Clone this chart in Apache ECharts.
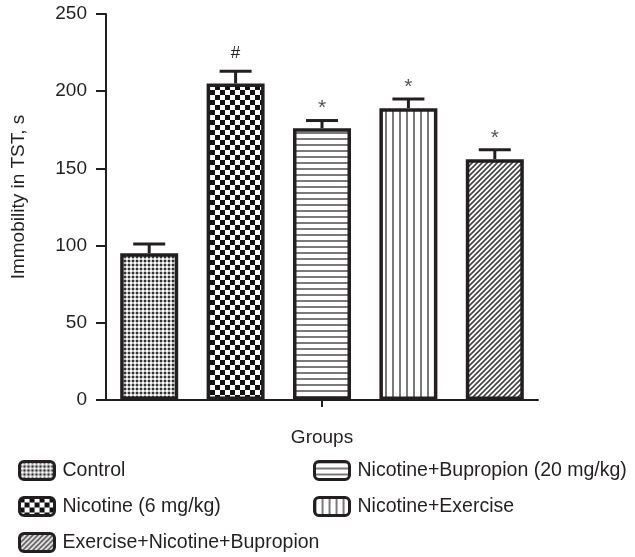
<!DOCTYPE html>
<html>
<head>
<meta charset="utf-8">
<script src="https://cdn.jsdelivr.net/npm/echarts@6/dist/echarts.min.js"></script>
<style>
  html, body { margin: 0; padding: 0; background: #fff; }
  #chart { width: 635px; height: 557px; }
</style>
</head>
<body>
<div id="chart"></div>
<script>
// Immobility time in the tail suspension test per treatment group
const groups = ['Control', 'Nicotine (6 mg/kg)', 'Nicotine+Bupropion (20 mg/kg)', 'Nicotine+Exercise', 'Exercise+Nicotine+Bupropion'];
const means = [95, 205, 176, 189, 156];
const sems = [6, 8, 5, 6, 6];
const marks = ['', '#', '*', '*', '*'];
const yMin = 0, yMax = 250, yStep = 50;

const FONT = "'Liberation Sans', Arial, Helvetica, sans-serif";
const INK = '#231f20';

// Small repeating canvas tiles used as bar fills
function tile(w, h, draw) {
  const c = document.createElement('canvas');
  c.width = w; c.height = h;
  const g = c.getContext('2d');
  g.fillStyle = '#fff';
  g.fillRect(0, 0, w, h);
  draw(g, w, h);
  return { image: c, repeat: 'repeat' };
}
const fills = [
  // fine stipple
  tile(4, 4, g => {
    g.fillStyle = '#bdbdbd'; g.fillRect(0, 0, 4, 4);
    g.fillStyle = '#333333'; g.fillRect(0, 0, 2, 2);
    g.fillStyle = '#ffffff'; g.fillRect(2, 2, 2, 2);
  }),
  // coarse checkerboard
  tile(10, 10, g => {
    g.fillStyle = '#111';
    g.fillRect(0, 0, 5, 5);
    g.fillRect(5, 5, 5, 5);
  }),
  // horizontal rules
  tile(6, 6, g => {
    g.fillStyle = '#7a7a7a';
    g.fillRect(0, 0, 6, 2);
  }),
  // vertical rules
  tile(7, 7, g => {
    g.fillStyle = '#7a7a7a';
    g.fillRect(0, 0, 2, 7);
  }),
  // diagonal hatching
  tile(5, 5, g => {
    g.strokeStyle = '#444';
    g.lineWidth = 1.6;
    g.beginPath();
    g.moveTo(-1, 6); g.lineTo(6, -1);
    g.moveTo(-1, 1); g.lineTo(1, -1);
    g.moveTo(4, 6); g.lineTo(6, 4);
    g.stroke();
  })
];

const barSeries = groups.map((name, i) => ({
  name: name,
  type: 'bar',
  barWidth: 58,
  barGap: '-100%',
  data: means.map((v, j) => (j === i ? v : '-')),
  itemStyle: { color: fills[i], borderColor: INK, borderWidth: 3.5 },
  emphasis: { disabled: true },
  z: 2
}));

const errSeries = {
  type: 'custom',
  data: means.map((v, i) => [i, v, sems[i], marks[i]]),
  renderItem: function (params, api) {
    const idx = api.value(0);
    const top = api.value(1) + api.value(2);
    const base = api.coord([idx, api.value(1)]);
    const cap = api.coord([idx, top]);
    const half = 16;
    const mark = marks[idx];
    const children = [
      { type: 'line', shape: { x1: base[0], y1: base[1], x2: cap[0], y2: cap[1] },
        style: { stroke: INK, lineWidth: 3 } },
      { type: 'line', shape: { x1: cap[0] - half, y1: cap[1], x2: cap[0] + half, y2: cap[1] },
        style: { stroke: INK, lineWidth: 3 } }
    ];
    if (mark) {
      children.push({
        type: 'text',
        style: {
          text: mark, x: cap[0], y: cap[1] - (mark === '#' ? 18 : 12),
          align: 'center', verticalAlign: 'middle',
          font: (mark === '#' ? '17px ' : '21px ') + FONT,
          fill: mark === '#' ? INK : '#555'
        }
      });
    }
    return { type: 'group', children: children };
  },
  z: 3
};

const legendCommon = {
  orient: 'vertical',
  padding: 0,
  height: 110,
  itemWidth: 35,
  itemHeight: 18,
  itemGap: 15,
  icon: 'roundRect',
  selectedMode: false,
  itemStyle: { borderWidth: 3 },
  textStyle: { fontFamily: FONT, fontSize: 19.5, color: INK, lineHeight: 18, padding: [0, 0, 0, 3] }
};

const option = {
  animation: false,
  backgroundColor: '#fff',
  grid: { left: 106, right: 97, top: 14, bottom: 157 },
  legend: [
    Object.assign({}, legendCommon, { left: 18, top: 460, data: [groups[0], groups[1], groups[4]] }),
    Object.assign({}, legendCommon, { left: 313, top: 460, data: [groups[2], groups[3]] })
  ],
  xAxis: {
    type: 'category',
    data: groups,
    name: 'Groups',
    nameLocation: 'middle',
    nameGap: 28,
    nameTextStyle: { fontFamily: FONT, fontSize: 19, color: INK },
    axisLine: { lineStyle: { color: INK, width: 2 } },
    axisTick: { show: true, alignWithLabel: true, length: 7, interval: function (i) { return i === 2; },
      lineStyle: { color: INK, width: 2 } },
    axisLabel: { show: false },
    splitLine: { show: false }
  },
  yAxis: {
    type: 'value',
    min: yMin, max: yMax, interval: yStep,
    name: 'Immobility in TST, s',
    nameLocation: 'middle',
    nameGap: 78,
    nameTextStyle: { fontFamily: FONT, fontSize: 19, color: INK, padding: [0, 0, 0, 20] },
    axisLine: { show: true, lineStyle: { color: INK, width: 2 } },
    axisTick: { show: true, length: 10, lineStyle: { color: INK, width: 2 } },
    axisLabel: { fontFamily: FONT, fontSize: 19, color: INK, margin: 19 },
    splitLine: { show: false }
  },
  series: barSeries.concat([errSeries])
};

echarts.init(document.getElementById('chart'), null, { renderer: 'canvas' }).setOption(option);
</script>
</body>
</html>
